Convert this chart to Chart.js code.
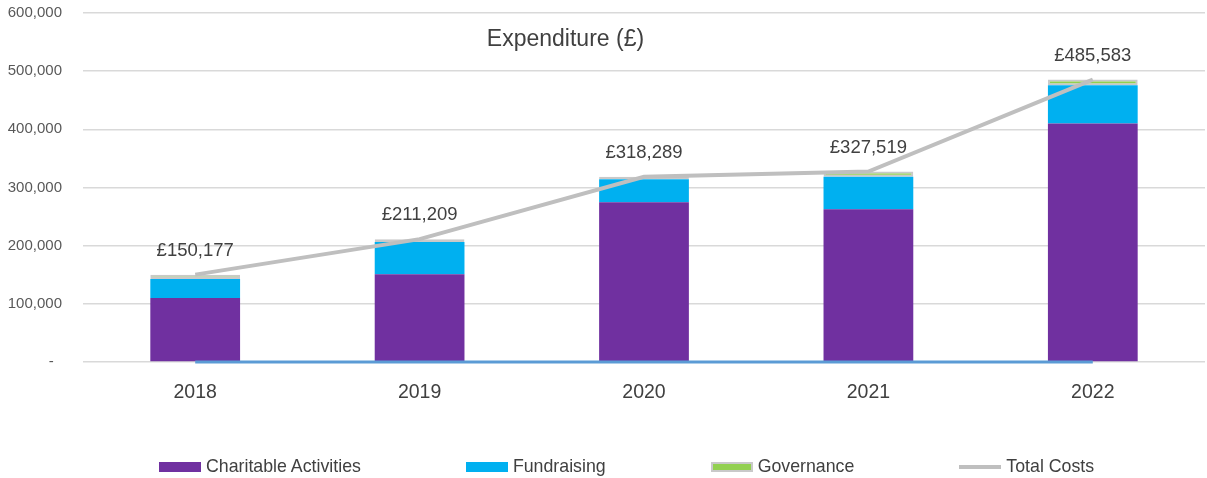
<!DOCTYPE html>
<html>
<head>
<meta charset="utf-8">
<script src="https://cdn.jsdelivr.net/npm/chart.js@4.4.1/dist/chart.umd.min.js"></script>
<style>
    html, body { margin: 0; padding: 0; background: #ffffff; overflow: hidden; }
    #wrap { position: relative; width: 1207px; height: 478px; }
    canvas { display: block; }
    #legend {
        position: absolute; left: 159px; top: 456px;
        display: flex; font-family: "Liberation Sans", Arial, sans-serif;
        font-size: 17.75px; color: #404040;
    }
    .legend-item { display: flex; align-items: center; margin-right: 105px; white-space: nowrap; }
    .legend-swatch { width: 42px; height: 10px; margin-right: 5px; box-sizing: border-box; }
    .legend-line { width: 42px; height: 4px; margin-right: 5px; }
</style>
</head>
<body>
<div id="wrap">
    <canvas id="expenditureChart" width="1207" height="478"></canvas>
    <div id="legend"></div>
</div>
<script>
// Dane wykresu
const years = ['2018', '2019', '2020', '2021', '2022'];
const charitableActivities = [110000, 151000, 274500, 262500, 410000];
const fundraising = [32700, 55500, 39500, 56000, 66000];
const governance = [7477, 4709, 4289, 9019, 9583];
const totalCosts = [150177, 211209, 318289, 327519, 485583];
const baseLine = [0, 0, 0, 0, 0];
const yTicks = [0, 100000, 200000, 300000, 400000, 500000, 600000];

const chartTitle = 'Expenditure (£)';
const FONT = '"Liberation Sans", Arial, sans-serif';

// Tytul rysowany recznie (w oryginale nie jest wysrodkowany)
const titlePlugin = {
    id: 'titlePlugin',
    afterDraw(chart) {
        const { ctx, chartArea } = chart;
        ctx.save();
        ctx.font = '23px ' + FONT;
        ctx.fillStyle = '#404040';
        ctx.textAlign = 'center';
        ctx.textBaseline = 'middle';
        ctx.fillText(chartTitle, chartArea.left + (chartArea.right - chartArea.left) * 0.43, 40);
        ctx.restore();
    }
};

// Etykiety z suma nad punktami linii
const totalLabelsPlugin = {
    id: 'totalLabels',
    afterDatasetsDraw(chart) {
        const { ctx } = chart;
        const meta = chart.getDatasetMeta(3);
        ctx.save();
        ctx.font = '18.5px ' + FONT;
        ctx.fillStyle = '#404040';
        ctx.textAlign = 'center';
        ctx.textBaseline = 'middle';
        meta.data.forEach((pt, i) => {
            ctx.fillText('£' + totalCosts[i].toLocaleString('en-GB'), pt.x, pt.y - 24);
        });
        ctx.restore();
    }
};

const ctx = document.getElementById('expenditureChart').getContext('2d');
const chart = new Chart(ctx, {
    type: 'bar',
    data: {
        labels: years,
        datasets: [
            {
                label: 'Charitable Activities',
                data: charitableActivities,
                backgroundColor: '#7030a0',
                stack: 'costs',
                order: 2
            },
            {
                label: 'Fundraising',
                data: fundraising,
                backgroundColor: '#00b0f0',
                stack: 'costs',
                order: 2
            },
            {
                label: 'Governance',
                data: governance,
                backgroundColor: '#92d050',
                borderColor: '#c9c9c9',
                borderWidth: 2,
                borderSkipped: false,
                stack: 'costs',
                order: 2
            },
            {
                label: 'Total Costs',
                type: 'line',
                data: totalCosts,
                borderColor: '#bfbfbf',
                backgroundColor: '#bfbfbf',
                borderWidth: 4,
                pointRadius: 0,
                tension: 0,
                stack: 'total',
                order: 0
            },
            {
                label: 'base',
                type: 'line',
                data: baseLine,
                borderColor: '#5b9bd5',
                borderWidth: 3,
                pointRadius: 0,
                clip: false,
                stack: 'base',
                order: 1
            }
        ]
    },
    options: {
        responsive: false,
        animation: false,
        layout: { padding: { top: 13, right: 2, bottom: 0, left: 0 } },
        plugins: {
            legend: { display: false },
            tooltip: { enabled: false }
        },
        datasets: {
            bar: { categoryPercentage: 1, barPercentage: 0.4 }
        },
        scales: {
            x: {
                stacked: true,
                grid: { display: false },
                border: { display: false },
                ticks: {
                    color: '#404040',
                    font: { family: FONT, size: 19.5 },
                    padding: 11
                },
                afterFit(scale) { scale.height = 116; }
            },
            y: {
                stacked: true,
                min: 0,
                max: 600000,
                afterBuildTicks(scale) {
                    scale.ticks = yTicks.map(v => ({ value: v }));
                },
                grid: { color: '#d9d9d9', lineWidth: 1.5, drawTicks: false },
                border: { display: false },
                ticks: {
                    color: '#595959',
                    font: { family: FONT, size: 15 },
                    padding: 21,
                    callback: function(value) {
                        return value === 0 ? '-  ' : value.toLocaleString('en-GB');
                    }
                },
                afterFit(scale) {
                    scale.width = 83;
                    scale.paddingTop = 0;
                    scale.paddingBottom = 0;
                }
            }
        }
    },
    plugins: [titlePlugin, totalLabelsPlugin]
});

// Legenda HTML (odstepy jak w oryginale)
const legendEl = document.getElementById('legend');
chart.data.datasets.slice(0, 4).forEach(ds => {
    const item = document.createElement('div');
    item.className = 'legend-item';
    const sw = document.createElement('span');
    if (ds.type === 'line') {
        sw.className = 'legend-line';
        sw.style.background = ds.borderColor;
    } else {
        sw.className = 'legend-swatch';
        sw.style.background = ds.backgroundColor;
        if (ds.borderColor) sw.style.border = '2px solid ' + ds.borderColor;
    }
    const txt = document.createElement('span');
    txt.textContent = ds.label;
    item.appendChild(sw);
    item.appendChild(txt);
    legendEl.appendChild(item);
});
</script>
</body>
</html>
